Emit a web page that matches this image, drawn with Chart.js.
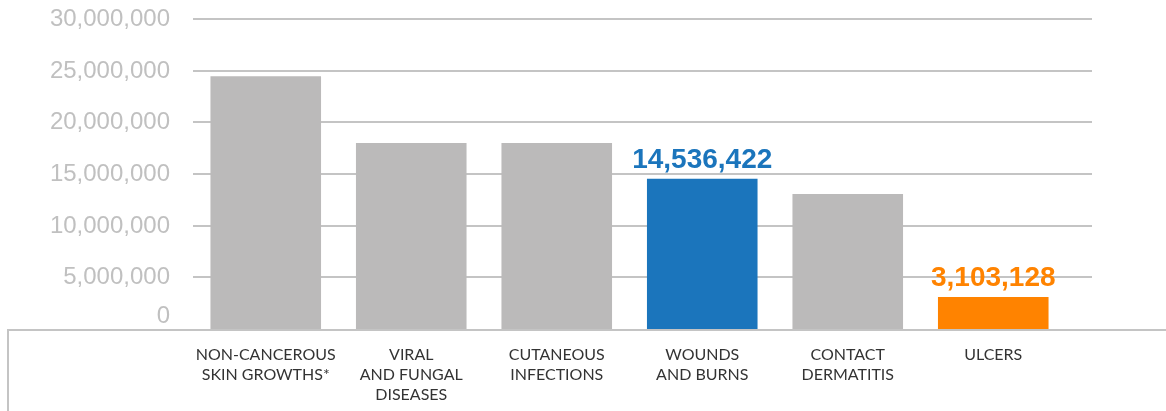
<!DOCTYPE html>
<html>
<head>
<meta charset="utf-8">
<script src="https://cdn.jsdelivr.net/npm/chart.js@4"></script>
<style>
  html, body { margin: 0; padding: 0; background: #fff; }
  #wrap { width: 1166px; height: 411px; }
</style>
</head>
<body>
<div id="wrap"><canvas id="chart"></canvas></div>
<script>
const categories = [
  ["NON-CANCEROUS", "SKIN GROWTHS*"],
  ["VIRAL", "AND FUNGAL", "DISEASES"],
  ["CUTANEOUS", "INFECTIONS"],
  ["WOUNDS", "AND BURNS"],
  ["CONTACT", "DERMATITIS"],
  ["ULCERS"],
];
const patients = [24450000, 18000000, 18000000, 14536422, 13060000, 3103128];
const barColors = ["#bbbaba", "#bbbaba", "#bbbaba", "#1b75bc", "#bbbaba", "#ff8300"];
const highlighted = [3, 5];

const gridColor = "#c4c4c4";

// grid lines run a bit past the last bar, the frame line at zero, and y labels
const gridPlugin = {
  id: "gridExtend",
  beforeDatasetsDraw(chart) {
    const ctx = chart.ctx;
    const y = chart.scales.y;
    const area = chart.chartArea;
    ctx.save();
    ctx.strokeStyle = gridColor;
    ctx.lineWidth = 2;
    ctx.font = "24px 'Liberation Sans', sans-serif";
    ctx.fillStyle = "#c0c0c0";
    ctx.textAlign = "right";
    y.ticks.forEach((t) => {
      const py = Math.round(y.getPixelForValue(t.value));
      if (t.value === 0) {
        ctx.textBaseline = "bottom";
        ctx.fillText("0", 170, py - 1);
        return;
      }
      ctx.textBaseline = "middle";
      ctx.fillText(t.value.toLocaleString("en-US"), 170, py);
      ctx.beginPath();
      ctx.moveTo(area.left, py);
      ctx.lineTo(area.right + 26, py);
      ctx.stroke();
    });
    const y0 = Math.round(y.getPixelForValue(0)) + 1;
    ctx.beginPath();
    ctx.moveTo(8, chart.height);
    ctx.lineTo(8, y0);
    ctx.lineTo(chart.width, y0);
    ctx.stroke();
    ctx.restore();
  },
};

const valueLabels = {
  id: "valueLabels",
  afterDatasetsDraw(chart) {
    const ctx = chart.ctx;
    const meta = chart.getDatasetMeta(0);
    ctx.save();
    ctx.font = "bold 28px 'Liberation Sans', sans-serif";
    ctx.textAlign = "center";
    ctx.textBaseline = "alphabetic";
    highlighted.forEach((i) => {
      const bar = meta.data[i];
      ctx.fillStyle = barColors[i];
      ctx.fillText(patients[i].toLocaleString("en-US"), bar.x, bar.y - 11);
    });
    ctx.restore();
  },
};

new Chart(document.getElementById("chart"), {
  type: "bar",
  data: {
    labels: categories,
    datasets: [{
      data: patients,
      backgroundColor: barColors,
      categoryPercentage: 0.76,
      barPercentage: 1,
    }],
  },
  options: {
    responsive: true,
    maintainAspectRatio: false,
    animation: false,
    layout: { padding: { top: 19, right: 100, left: 0, bottom: 0 } },
    plugins: {
      legend: { display: false },
      tooltip: { enabled: false },
    },
    scales: {
      x: {
        grid: { display: false },
        border: { display: false },
        ticks: {
          color: "#333",
          font: { family: "Lato, sans-serif", size: 16, lineHeight: 1.25 },
          padding: 8,
          maxRotation: 0,
          autoSkip: false,
        },
        afterFit(scale) { scale.height = 82; },
      },
      y: {
        min: 0,
        max: 30000000,
        grid: { display: false },
        border: { display: false },
        ticks: { stepSize: 5000000, display: false },
        afterFit(scale) { scale.width = 193; },
      },
    },
  },
  plugins: [gridPlugin, valueLabels],
});
</script>
</body>
</html>
